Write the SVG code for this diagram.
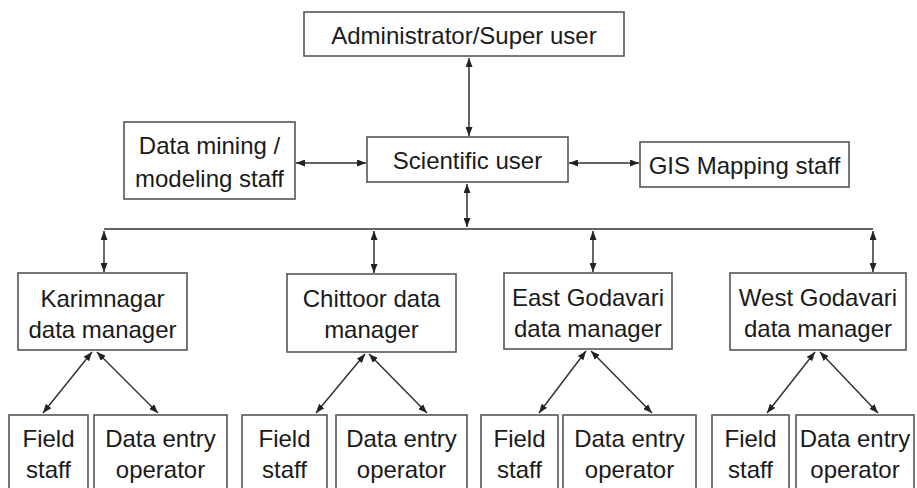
<svg xmlns="http://www.w3.org/2000/svg" width="917" height="488" viewBox="0 0 917 488">
<style>
.box{fill:#fff;stroke:#555;stroke-width:1.6}
.t{font-family:"Liberation Sans",Arial,sans-serif;font-size:24px;fill:#1a1a1a;text-anchor:middle}
.c{fill:none;stroke:#333;stroke-width:1.5}
</style>
<defs>
<marker id="ah" markerUnits="userSpaceOnUse" markerWidth="9" markerHeight="7" refX="9" refY="3.5" orient="auto-start-reverse" viewBox="0 0 9 7">
<path d="M0,0 L9,3.5 L0,7 z" fill="#222"/>
</marker>
</defs>
<rect width="917" height="488" fill="#fff"/>
<g id="connectors">
<line class="c" x1="469" y1="58" x2="469" y2="136" marker-start="url(#ah)" marker-end="url(#ah)"/>
<line class="c" x1="296" y1="163" x2="366" y2="163" marker-start="url(#ah)" marker-end="url(#ah)"/>
<line class="c" x1="569" y1="163" x2="639" y2="163" marker-start="url(#ah)" marker-end="url(#ah)"/>
<line class="c" x1="467" y1="184" x2="467" y2="227" marker-start="url(#ah)" marker-end="url(#ah)"/>
<line class="c" x1="104" y1="229" x2="873" y2="229"/>
<line class="c" x1="104" y1="231" x2="104" y2="272" marker-start="url(#ah)" marker-end="url(#ah)"/>
<line class="c" x1="374" y1="231" x2="374" y2="273" marker-start="url(#ah)" marker-end="url(#ah)"/>
<line class="c" x1="593" y1="231" x2="593" y2="272" marker-start="url(#ah)" marker-end="url(#ah)"/>
<line class="c" x1="873" y1="231" x2="873" y2="272" marker-start="url(#ah)" marker-end="url(#ah)"/>
<line class="c" x1="92" y1="352" x2="43" y2="413" marker-start="url(#ah)" marker-end="url(#ah)"/>
<line class="c" x1="97" y1="352" x2="158" y2="413" marker-start="url(#ah)" marker-end="url(#ah)"/>
<line class="c" x1="365" y1="354" x2="316" y2="413" marker-start="url(#ah)" marker-end="url(#ah)"/>
<line class="c" x1="369" y1="354" x2="427" y2="413" marker-start="url(#ah)" marker-end="url(#ah)"/>
<line class="c" x1="586" y1="351" x2="539" y2="413" marker-start="url(#ah)" marker-end="url(#ah)"/>
<line class="c" x1="591" y1="351" x2="652" y2="413" marker-start="url(#ah)" marker-end="url(#ah)"/>
<line class="c" x1="815" y1="352" x2="767" y2="413" marker-start="url(#ah)" marker-end="url(#ah)"/>
<line class="c" x1="820" y1="352" x2="878" y2="413" marker-start="url(#ah)" marker-end="url(#ah)"/>
</g>
<g id="admin"><rect class="box" x="304" y="12" width="320" height="44"/><text class="t" x="464" y="44">Administrator/Super user</text></g>
<g id="scientific"><rect class="box" x="367" y="137" width="201" height="45"/><text class="t" x="467.5" y="169">Scientific user</text></g>
<g id="datamining"><rect class="box" x="124" y="122" width="171" height="77"/><text class="t" x="209.5" y="154">Data mining /</text><text class="t" x="209.5" y="187">modeling staff</text></g>
<g id="gis"><rect class="box" x="640" y="142" width="209" height="45"/><text class="t" x="744.5" y="174">GIS Mapping staff</text></g>
<g id="karimnagar"><rect class="box" x="18" y="273" width="169" height="77"/><text class="t" x="102.5" y="307">Karimnagar</text><text class="t" x="102.5" y="338">data manager</text></g>
<g id="chittoor"><rect class="box" x="287" y="274" width="169" height="78"/><text class="t" x="371.5" y="307">Chittoor data</text><text class="t" x="371.5" y="338">manager</text></g>
<g id="eastgodavari"><rect class="box" x="504" y="273" width="168" height="76"/><text class="t" x="588" y="306">East Godavari</text><text class="t" x="588" y="337">data manager</text></g>
<g id="westgodavari"><rect class="box" x="730" y="273" width="176" height="77"/><text class="t" x="818" y="306">West Godavari</text><text class="t" x="818" y="337">data manager</text></g>
<g id="field1"><rect class="box" x="9" y="415" width="79" height="85"/><text class="t" x="48.5" y="447">Field</text><text class="t" x="48.5" y="478">staff</text></g>
<g id="entry1"><rect class="box" x="94" y="415" width="133" height="85"/><text class="t" x="160.5" y="447">Data entry</text><text class="t" x="160.5" y="478">operator</text></g>
<g id="field2"><rect class="box" x="242" y="415" width="85" height="85"/><text class="t" x="284.5" y="447">Field</text><text class="t" x="284.5" y="478">staff</text></g>
<g id="entry2"><rect class="box" x="336" y="415" width="131" height="85"/><text class="t" x="401.5" y="447">Data entry</text><text class="t" x="401.5" y="478">operator</text></g>
<g id="field3"><rect class="box" x="481" y="415" width="77" height="85"/><text class="t" x="519.5" y="447">Field</text><text class="t" x="519.5" y="478">staff</text></g>
<g id="entry3"><rect class="box" x="563" y="415" width="133" height="85"/><text class="t" x="629.5" y="447">Data entry</text><text class="t" x="629.5" y="478">operator</text></g>
<g id="field4"><rect class="box" x="712" y="415" width="77" height="85"/><text class="t" x="750.5" y="447">Field</text><text class="t" x="750.5" y="478">staff</text></g>
<g id="entry4"><rect class="box" x="796" y="415" width="118" height="85"/><text class="t" x="855" y="447">Data entry</text><text class="t" x="855" y="478">operator</text></g>
</svg>
